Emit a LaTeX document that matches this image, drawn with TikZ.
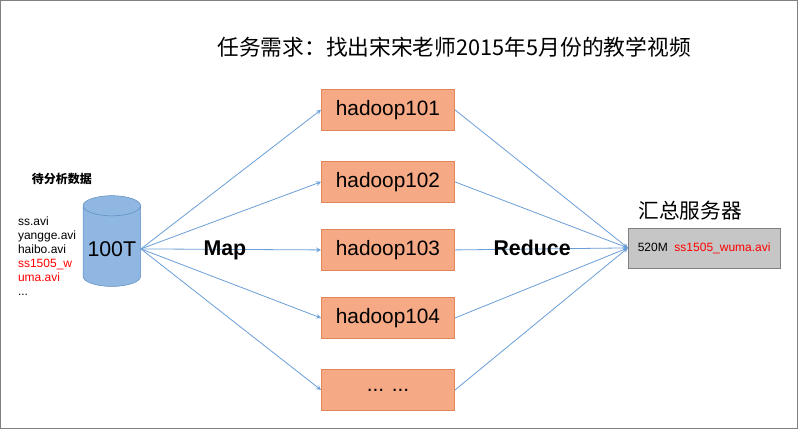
\documentclass[tikz,border=0pt]{standalone}
\usepackage{fontspec}
\setmainfont{Liberation Sans}
\newfontfamily\cjk{Noto Sans CJK SC}
\usetikzlibrary{shapes.geometric, arrows}
\definecolor{arrowblue}{HTML}{6A9FD8}
\definecolor{boxfill}{HTML}{F6A985}
\definecolor{boxline}{HTML}{E0875C}
\tikzstyle{arrow} = [arrowblue,line width=0.6pt,->,>=stealth]
\tikzstyle{hostbox} = [draw=boxline,fill=boxfill,minimum width=100pt,minimum height=31pt,font=\fontsize{15.6}{18}\selectfont]

\begin{document}
\begin{tikzpicture}[x=0.75pt,y=-0.75pt]
	\begin{scope}
		
		% Frame:
		\draw [gray,fill=white] (0.5,0.5) rectangle (797.5,428.5);
		
		% Title:
		\node (title) at (454,47) {\cjk\fontsize{16.3}{19}\selectfont 任务需求：找出宋宋老师2015年5月份的教学视频};
		
		% Source data:
		\node (datahead) at (62,179) {\cjk\bfseries\fontsize{9}{10}\selectfont 待分析数据};
		\node [align=left,anchor=north west,inner sep=0pt,font=\fontsize{9}{10.5}\selectfont] (files) at (18,217)
			{ss.avi\\yangge.avi\\haibo.avi\\\textcolor{red}{ss1505\_w}\\\textcolor{red}{uma.avi}\\...};
		\node [cylinder,shape border rotate=90,draw=arrowblue!90!black,fill=arrowblue!75!white,
			minimum width=39pt,minimum height=68pt,aspect=0.35,font=\fontsize{16}{18}\selectfont] (store) at (112,249) {100T};
		
		% Hosts:
		\foreach \n/\y/\t in {1/110/hadoop101,2/182/hadoop102,3/250/hadoop103,4/318/hadoop104,5/390/{... ...}}
		{
			\node [hostbox] (host\n) at (388,\y) {\t};
		}
		
		% Result server:
		\node (serverhead) at (690,211) {\cjk\fontsize{15.5}{18}\selectfont 汇总服务器};
		\node [draw=gray,fill=gray!45,minimum width=114pt,minimum height=30pt,font=\fontsize{9}{10.5}\selectfont] (server) at (704,248)
			{520M\ \ \textcolor{red}{ss1505\_wuma.avi}};
		
		% Connectors:
		\foreach \n in {1,...,5}
		{
			\draw [arrow] (store.east) -- (host\n.west);
			\draw [arrow] (host\n.east) -- (server.west);
		}
		
		\node [font=\bfseries\fontsize{16}{18}\selectfont] (map) at (225,250) {Map};
		\node [font=\bfseries\fontsize{16}{18}\selectfont] (reduce) at (532,248) {Reduce};
		
	\end{scope}
\end{tikzpicture}
\end{document}
